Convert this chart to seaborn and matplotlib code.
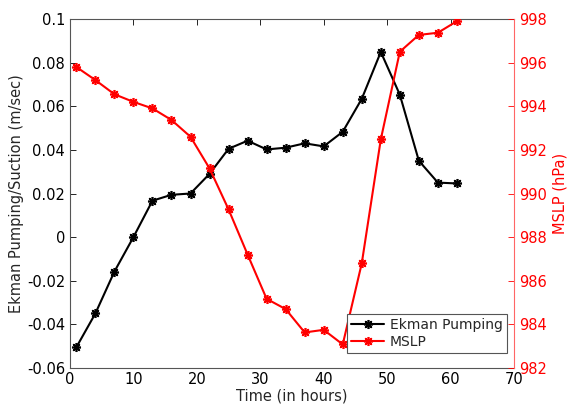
import matplotlib
matplotlib.use("Agg")
import matplotlib.pyplot as plt
import pandas as pd
import seaborn as sns

# time in hours
hours = [1, 4, 7, 10, 13, 16, 19, 22, 25, 28, 31, 34, 37, 40, 43, 46, 49, 52, 55, 58, 61]
ekman = [-0.0505, -0.035, -0.0158, 0.0, 0.0167, 0.0194, 0.020, 0.029, 0.0405, 0.0442,
         0.0402, 0.041, 0.043, 0.0416, 0.0483, 0.0634, 0.0849, 0.0653, 0.035, 0.025, 0.0246]
mslp = [995.8, 995.2, 994.55, 994.2, 993.9, 993.37, 992.6, 991.15, 989.27, 987.2,
        985.17, 984.7, 983.63, 983.75, 983.08, 986.8, 992.48, 996.5, 997.27, 997.37, 997.9]

df = pd.DataFrame({"hours": hours, "ekman": ekman, "mslp": mslp})

sns.set_style("white")
plt.rcParams['font.family'] = ['DejaVu Sans']

fig = plt.figure(figsize=(5.69, 4.08), dpi=100)
ax = fig.add_axes([70 / 569, 1 - 368 / 408, 444 / 569, 349 / 408])
ax2 = ax.twinx()

star = (8, 2, 0)
sns.lineplot(data=df, x="hours", y="ekman", ax=ax, color="black", marker=star,
             markersize=6.5, markeredgewidth=1.2, markeredgecolor="black", linewidth=1.5,
             label="Ekman Pumping", legend=False)
sns.lineplot(data=df, x="hours", y="mslp", ax=ax2, color="red", marker=star,
             markersize=6.5, markeredgewidth=1.2, markeredgecolor="red", linewidth=1.5,
             label="MSLP", legend=False)

ax.set_xlim(0, 70)
ax.set_ylim(-0.06, 0.1)
ax.set_xticks(range(0, 71, 10))
ax.set_yticks([-0.06, -0.04, -0.02, 0, 0.02, 0.04, 0.06, 0.08, 0.1])
ax.set_yticklabels(["-0.06", "-0.04", "-0.02", "0", "0.02", "0.04", "0.06", "0.08", "0.1"])
ax2.set_ylim(982, 998)
ax2.set_yticks(range(982, 999, 2))

ax.set_xlabel("Time (in hours)", fontsize=10.5, labelpad=1)
ax.set_ylabel("Ekman Pumping/Suction (m/sec)", fontsize=10.5, labelpad=2)
ax2.set_ylabel("MSLP (hPa)", fontsize=10.5, color="red", labelpad=4)

ax.tick_params(axis="both", direction="in", length=4, width=0.6, labelsize=10.5,
               top=True, right=False, colors="black")
ax.tick_params(axis="x", pad=3)
ax2.tick_params(axis="y", direction="in", length=4, width=0.6, labelsize=10.5,
                colors="red")

for s in ["top", "bottom", "left"]:
    ax.spines[s].set_color("#555555")
    ax.spines[s].set_linewidth(0.8)
ax.spines["right"].set_visible(False)
for s in ["top", "bottom", "left"]:
    ax2.spines[s].set_visible(False)
ax2.spines["right"].set_color("#ff6666")
ax2.spines["right"].set_linewidth(0.8)

h1, l1 = ax.get_legend_handles_labels()
h2, l2 = ax2.get_legend_handles_labels()
leg = ax2.legend(h1 + h2, l1 + l2, loc="lower right", bbox_to_anchor=(0.99, 0.035),
                 fontsize=10, fancybox=False, framealpha=1, edgecolor="#555555",
                 borderpad=0.3, labelspacing=0.2, handlelength=2.4, handletextpad=0.4,
                 borderaxespad=0.2)
leg.get_frame().set_linewidth(0.8)

fig.savefig("out.png", dpi=100)
